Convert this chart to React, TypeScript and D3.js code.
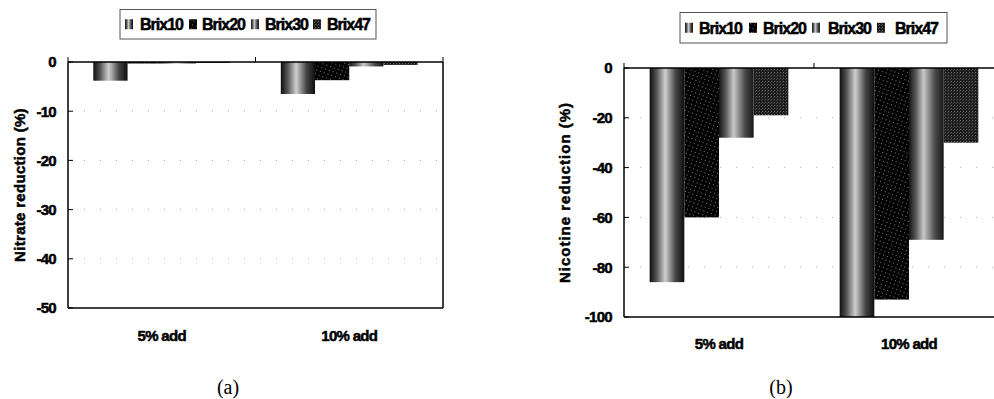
import React from 'react';
import * as d3 from 'd3';

// categories and series
const categories = ['5% add', '10% add'];
const seriesNames = ['Brix10', 'Brix20', 'Brix30', 'Brix47'];

// (a) nitrate reduction, one array per series (5% add, 10% add)
const nitrateBrix10 = [-3.8, -6.5];
const nitrateBrix20 = [-0.3, -3.7];
const nitrateBrix30 = [-0.3, -0.9];
const nitrateBrix47 = [-0.2, -0.6];

// (b) nicotine reduction
const nicotineBrix10 = [-86, -100];
const nicotineBrix20 = [-60, -93];
const nicotineBrix30 = [-28, -69];
const nicotineBrix47 = [-19, -30];

const nitrateTicks = [0, -10, -20, -30, -40, -50];
const nicotineTicks = [0, -20, -40, -60, -80, -100];

const fills: Record<string, string> = {
  Brix10: 'url(#fBrix10)',
  Brix20: 'url(#fBrix20)',
  Brix30: 'url(#fBrix30)',
  Brix47: 'url(#fBrix47)',
};

const sansBold = {
  fontFamily: '"Liberation Sans", Arial, sans-serif',
  fontWeight: 700,
  stroke: '#000',
  strokeWidth: 0.5,
};

type PanelProps = {
  series: number[][];
  ticks: number[];
  left: number;
  right: number;
  top: number;
  bottom: number;
  title: string;
  titleX: number;
  titleSpacing: number;
  labelY: number;
  legend: { x: number; y: number; w: number; h: number; swatch: number[]; text: number[] };
  caption: string;
  captionX: number;
};

function Panel(p: PanelProps) {
  const y = d3.scaleLinear()
    .domain([d3.min(p.ticks)!, 0])
    .range([p.bottom, p.top]);
  const x0 = d3.scaleBand<string>()
    .domain(categories)
    .range([p.left, p.right])
    .paddingInner(0.27)
    .paddingOuter(0.135);
  const x1 = d3.scaleBand<string>()
    .domain(seriesNames)
    .range([0, x0.bandwidth()]);
  const step = x0.step();
  const boundaries = [p.left, p.left + step, p.left + 2 * step];

  return (
    <g>
      {/* legend */}
      <rect x={p.legend.x} y={p.legend.y} width={p.legend.w} height={p.legend.h}
        fill="#fff" stroke="#555" strokeWidth={1} />
      {seriesNames.map((s, i) => (
        <g key={s}>
          <rect x={p.legend.swatch[i]} y={p.legend.y + p.legend.h / 2 - 5} width={8} height={10} fill={fills[s]} />
          <text x={p.legend.text[i]} y={p.legend.y + p.legend.h / 2 + 6} fontSize={16}
            letterSpacing={-1} style={sansBold}>{s}</text>
        </g>
      ))}

      {/* grid lines */}
      {p.ticks.filter(t => t !== 0 && t !== d3.min(p.ticks)).map(t => (
        <line key={'g' + t} x1={p.left} x2={p.right} y1={y(t)} y2={y(t)}
          stroke="#aaa" strokeWidth={1} strokeDasharray="1,15" />
      ))}

      {/* bars */}
      {categories.map((c, ci) => (
        <g key={c}>
          {seriesNames.map((s, si) => {
            const v = p.series[si][ci];
            return (
              <rect key={s} x={x0(c)! + x1(s)!} y={y(0)} width={x1.bandwidth()}
                height={y(v) - y(0)} fill={fills[s]} />
            );
          })}
        </g>
      ))}

      {/* frame */}
      <line x1={p.left} x2={p.left} y1={p.top} y2={p.bottom} stroke="#000" strokeWidth={1.5} />
      <line x1={p.right} x2={p.right} y1={p.top} y2={p.bottom} stroke="#000" strokeWidth={1.5} />
      <line x1={p.left} x2={p.right} y1={p.top} y2={p.top} stroke="#000" strokeWidth={1.5} />
      <line x1={p.left} x2={p.right} y1={p.bottom} y2={p.bottom} stroke="#000" strokeWidth={1.5} />
      {boundaries.map(b => (
        <line key={'b' + b} x1={b} x2={b} y1={p.top - 5} y2={p.top} stroke="#000" strokeWidth={1} />
      ))}

      {/* y ticks */}
      {p.ticks.map(t => (
        <g key={'t' + t}>
          <line x1={p.left} x2={p.left + 5} y1={y(t)} y2={y(t)} stroke="#000" strokeWidth={1} />
          <text x={p.left - 12} y={y(t)} dy="0.36em" textAnchor="end" fontSize={15}
            letterSpacing={-0.7} style={sansBold}>{t}</text>
        </g>
      ))}

      {/* category labels */}
      {categories.map(c => (
        <text key={'c' + c} x={x0(c)! + x0.bandwidth() / 2} y={p.labelY} textAnchor="middle"
          fontSize={15} letterSpacing={-0.7} style={sansBold}>{c}</text>
      ))}

      {/* axis title */}
      <text transform={`translate(${p.titleX},${(p.top + p.bottom) / 2}) rotate(-90)`}
        textAnchor="middle" fontSize={15} letterSpacing={p.titleSpacing} style={sansBold}>{p.title}</text>

      {/* caption */}
      <text x={p.captionX} y={394} textAnchor="middle" fontSize={20}
        style={{ fontFamily: '"Liberation Serif", "Times New Roman", serif' }}>{p.caption}</text>
    </g>
  );
}

export default function App() {
  return (
    <svg width={994} height={399} style={{ position: 'absolute', left: 0, top: 0, background: '#fff' }}>
      <defs>
        <linearGradient id="fBrix10" x1="0" x2="1" y1="0" y2="0">
          <stop offset="0" stopColor="#0e0e0e" />
          <stop offset="0.2" stopColor="#555" />
          <stop offset="0.45" stopColor="#cfcfcf" />
          <stop offset="0.75" stopColor="#444" />
          <stop offset="1" stopColor="#0e0e0e" />
        </linearGradient>
        <pattern id="fBrix20" width="4" height="4" patternUnits="userSpaceOnUse" patternTransform="rotate(20)">
          <rect width="4" height="4" fill="#030303" />
          <rect x="1" y="1" width="1" height="1" fill="#777" />
        </pattern>
        <linearGradient id="fBrix30" x1="0" x2="1" y1="0" y2="0">
          <stop offset="0" stopColor="#141414" />
          <stop offset="0.2" stopColor="#5a5a5a" />
          <stop offset="0.42" stopColor="#c8c8c8" />
          <stop offset="0.75" stopColor="#4a4a4a" />
          <stop offset="1" stopColor="#181818" />
        </linearGradient>
        <pattern id="fBrix47" width="3" height="3" patternUnits="userSpaceOnUse">
          <rect width="3" height="3" fill="#1c1c1c" />
          <rect x="0" y="0" width="1" height="1" fill="#6a6a6a" />
          <rect x="2" y="1" width="1" height="1" fill="#444" />
        </pattern>
      </defs>

      <Panel
        series={[nitrateBrix10, nitrateBrix20, nitrateBrix30, nitrateBrix47]}
        ticks={nitrateTicks}
        left={68} right={443} top={62} bottom={308}
        title="Nitrate reduction (%)" titleX={25} titleSpacing={0.3} labelY={341}
        legend={{ x: 120, y: 9.5, w: 256, h: 29.5, swatch: [125, 189, 251, 313], text: [140, 202, 265, 327] }}
        caption="(a)" captionX={228}
      />
      <Panel
        series={[nicotineBrix10, nicotineBrix20, nicotineBrix30, nicotineBrix47]}
        ticks={nicotineTicks}
        left={624} right={1004} top={68} bottom={317}
        title="Nicotine reduction (%)" titleX={570} titleSpacing={1} labelY={349}
        legend={{ x: 680, y: 12.5, w: 267, h: 30.5, swatch: [685, 749, 812, 877], text: [699, 763, 828, 895] }}
        caption="(b)" captionX={781}
      />
    </svg>
  );
}
